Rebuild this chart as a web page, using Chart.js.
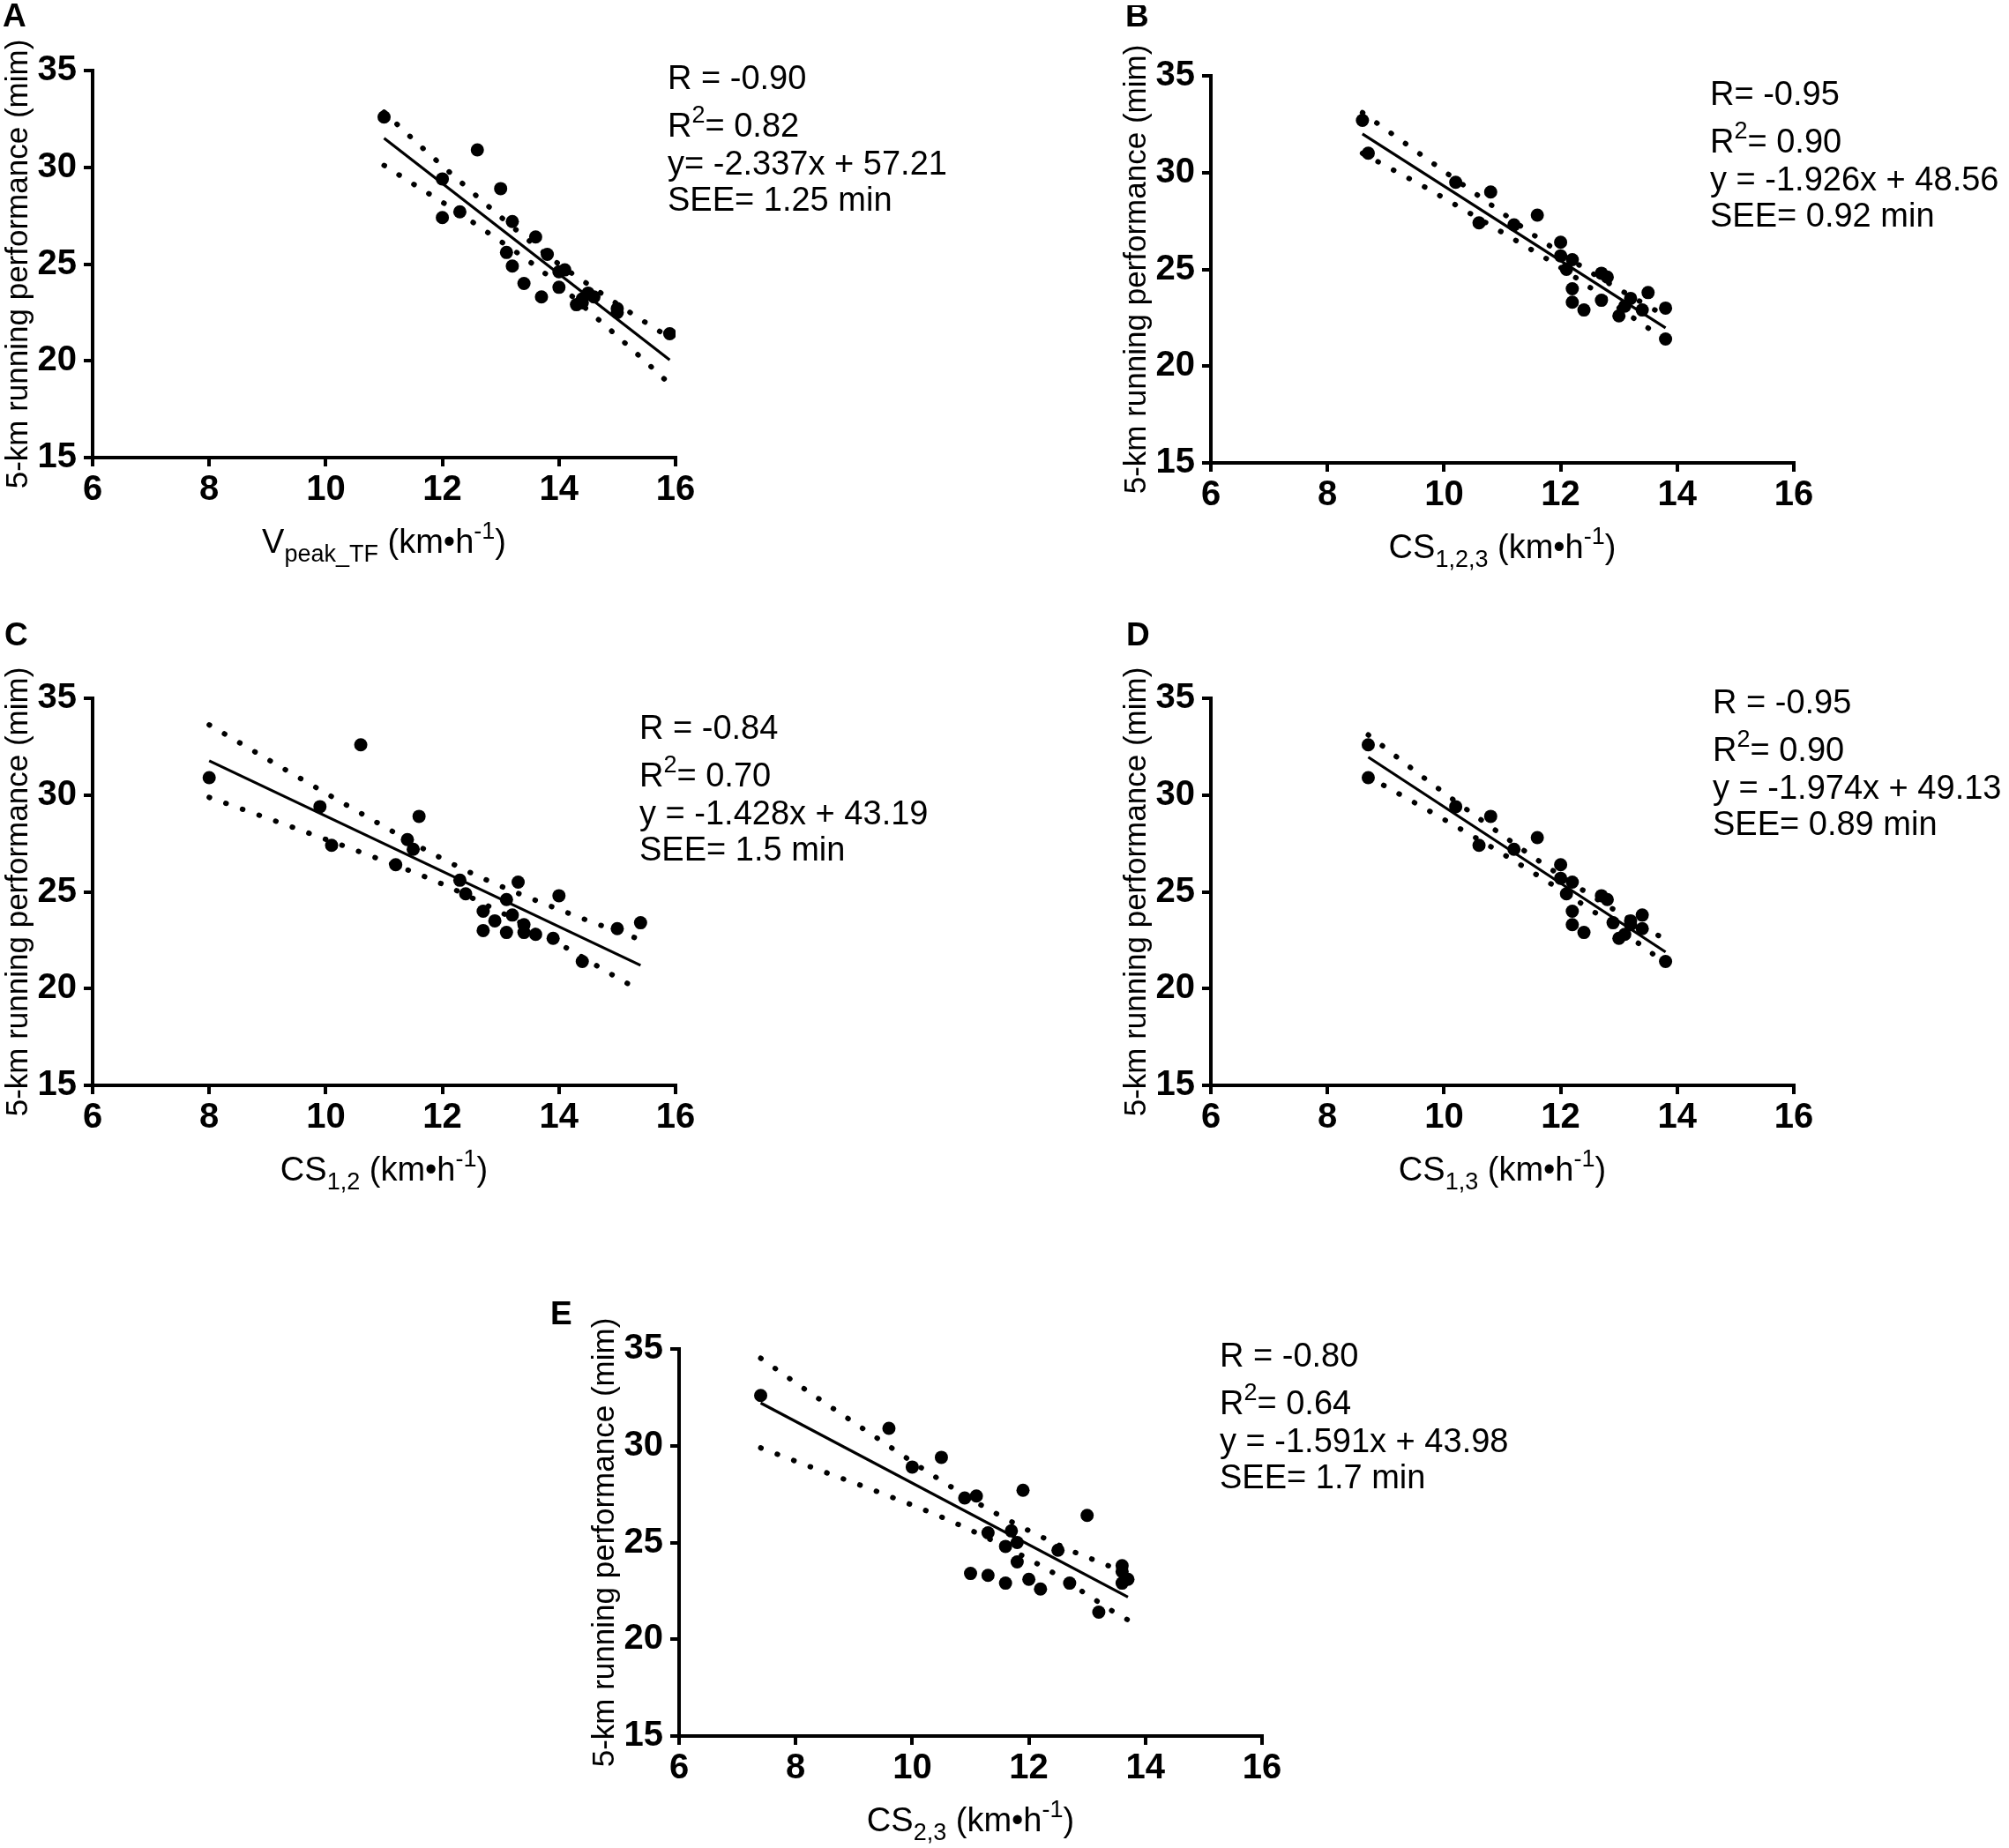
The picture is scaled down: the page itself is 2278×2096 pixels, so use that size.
<!DOCTYPE html>
<html>
<head>
<meta charset="utf-8">
<script src="https://cdn.jsdelivr.net/npm/chart.js@4.4.1/dist/chart.umd.min.js"></script>
<style>
  html, body { margin: 0; padding: 0; background: #fff; }
  body { width: 2278px; height: 2096px; position: relative; overflow: hidden; }
  canvas { position: absolute; }
</style>
</head>
<body>
<canvas id="pA"></canvas>
<canvas id="pB"></canvas>
<canvas id="pC"></canvas>
<canvas id="pD"></canvas>
<canvas id="pE"></canvas>
<script>
// axis ticks shared by all five panels
const xTicks = [6, 8, 10, 12, 14, 16];
const yTicks = [15, 20, 25, 30, 35];

// A: Vpeak_TF
const vpeakX = [11.0, 12.6, 12.0, 13.0, 12.3, 12.0, 13.2, 13.6, 13.1, 13.8, 13.2, 14.1, 14.0, 13.4, 14.0, 13.7, 14.5, 14.4, 14.3, 14.6, 14.4, 15.0, 15.0, 15.9];
const vpeakY = [32.6, 30.9, 29.4, 28.9, 27.7, 27.4, 27.2, 26.4, 25.6, 25.5, 24.9, 24.7, 24.6, 24.0, 23.8, 23.3, 23.5, 23.2, 22.9, 23.3, 23.0, 22.7, 22.5, 21.4];
const vpeakFitX = [11.0, 15.9];
const vpeakFitY = [31.50, 20.05];
const vpeakUpX = [11.0, 11.66, 12.33, 13.0, 13.94, 14.67, 15.43, 15.9];
const vpeakUpY = [32.85, 31.0, 29.2, 27.44, 25.13, 23.61, 22.09, 21.2];
const vpeakLoX = [11.0, 11.51, 12.02, 12.77, 13.74, 14.65, 15.55, 15.9];
const vpeakLoY = [30.1, 29.12, 28.16, 26.65, 24.57, 22.21, 19.78, 18.8];

// B: CS1,2,3
const cs123X = [8.6, 8.7, 10.2, 10.8, 10.6, 11.6, 11.2, 12.0, 12.0, 12.2, 12.1, 12.7, 12.8, 12.2, 12.7, 12.2, 12.4, 13.5, 13.2, 13.8, 13.4, 13.0, 13.1, 13.8];
const cs123Y = [32.7, 31.0, 29.5, 29.0, 27.4, 27.8, 27.3, 26.4, 25.7, 25.5, 25.0, 24.8, 24.6, 24.0, 23.4, 23.3, 22.9, 23.8, 23.5, 23.0, 22.9, 22.6, 23.1, 21.4];
const cs123FitX = [8.6, 13.8];
const cs123FitY = [32.00, 21.98];
const cs123UpX = [8.6, 9.57, 10.55, 11.52, 12.5, 13.56, 13.8];
const cs123UpY = [33.1, 31.0, 28.89, 26.81, 24.88, 23.0, 22.6];
const cs123LoX = [8.6, 9.12, 9.66, 10.43, 11.2, 11.97, 13.45, 13.8];
const cs123LoY = [31.0, 30.15, 29.27, 27.92, 26.55, 25.15, 22.07, 21.36];

// C: CS1,2
const cs12X = [8.0, 10.6, 9.9, 11.6, 10.1, 11.4, 11.5, 11.2, 12.3, 12.4, 13.3, 13.1, 14.0, 12.7, 13.2, 12.9, 13.4, 12.7, 13.1, 13.4, 13.6, 13.9, 14.4, 15.0, 15.4];
const cs12Y = [30.9, 32.6, 29.4, 28.9, 27.4, 27.7, 27.2, 26.4, 25.6, 24.9, 25.5, 24.6, 24.8, 24.0, 23.8, 23.5, 23.3, 23.0, 22.9, 22.9, 22.8, 22.6, 21.4, 23.1, 23.4];
const cs12FitX = [8.0, 15.4];
const cs12FitY = [31.77, 21.2];
const cs12UpX = [8.0, 9.29, 10.59, 11.89, 12.7, 13.81, 15.2, 15.4];
const cs12UpY = [33.63, 31.34, 29.08, 26.88, 25.69, 24.31, 22.74, 22.53];
const cs12LoX = [8.0, 9.41, 10.81, 11.93, 13.01, 14.06, 15.1, 15.4];
const cs12LoY = [29.88, 28.36, 26.81, 25.49, 23.93, 22.22, 20.39, 19.9];

// D: CS1,3
const cs13X = [8.7, 8.7, 10.2, 10.8, 11.6, 10.6, 11.2, 12.0, 12.0, 12.2, 12.1, 12.7, 12.8, 12.2, 12.9, 12.2, 12.4, 13.4, 13.2, 13.4, 13.0, 13.1, 13.2, 13.8];
const cs13Y = [32.6, 30.9, 29.4, 28.9, 27.8, 27.4, 27.2, 26.4, 25.7, 25.5, 24.9, 24.8, 24.6, 24.0, 23.4, 23.3, 22.9, 23.8, 23.5, 23.1, 22.6, 22.8, 23.3, 21.4];
const cs13FitX = [8.7, 13.8];
const cs13FitY = [31.96, 21.89];
const cs13UpX = [8.7, 9.67, 10.63, 11.85, 12.87, 13.65, 13.8];
const cs13UpY = [33.11, 30.86, 28.73, 26.14, 24.16, 22.79, 22.52];
const cs13LoX = [8.7, 10.0, 11.04, 12.55, 13.28, 13.8];
const cs13LoY = [30.95, 28.74, 26.9, 24.01, 22.46, 21.3];

// E: CS2,3
const cs23X = [7.4, 9.6, 10.5, 10.0, 11.9, 10.9, 11.1, 13.0, 11.3, 11.7, 11.6, 11.8, 12.5, 11.8, 13.6, 11.0, 11.3, 11.6, 12.0, 12.2, 12.7, 13.6, 13.7, 13.6, 13.2];
const cs23Y = [32.6, 30.9, 29.4, 28.9, 27.7, 27.3, 27.4, 26.4, 25.5, 25.6, 24.8, 25.0, 24.6, 24.0, 23.8, 23.4, 23.3, 22.9, 23.1, 22.6, 22.9, 23.5, 23.1, 22.9, 21.4];
const cs23FitX = [7.4, 13.7];
const cs23FitY = [32.21, 22.18];
const cs23UpX = [7.4, 8.12, 9.35, 10.34, 11.37, 12.71, 13.26, 13.7];
const cs23UpY = [34.52, 33.0, 30.49, 28.5, 26.61, 24.6, 23.93, 23.38];
const cs23LoX = [7.4, 8.22, 9.34, 10.74, 12.33, 13.08, 13.59, 13.7];
const cs23LoY = [29.89, 28.95, 27.7, 26.0, 23.59, 22.15, 21.17, 21.0];

const yTitle = '5-km running performance (mim)';

// plot area is 661 x 439 in every panel; y axis box is 105 wide
const PLOT_W = 661, PLOT_H = 439;
const LINE_GAP = [0, 54, 97, 138];
const FONT = '"Liberation Sans", Arial, sans-serif';

const panels = [
  { id: 'pA', left: 0, top: 0, w: 1130, h: 680, padL: 0, padT: 80, letter: 'A', letterAt: [-102, -60], statsAt: [652, 11],
    xs: vpeakX, ys: vpeakY, fit: [vpeakFitX, vpeakFitY], up: [vpeakUpX, vpeakUpY], lo: [vpeakLoX, vpeakLoY],
    stats: [[['R = -0.90']], [['R'], ['2', 'sup'], ['= 0.82']], [['y= -2.337x + 57.21']], [['SEE= 1.25 min']]],
    xTitle: [['V'], ['peak_TF', 'sub'], [' (km\u2022h'], ['-1', 'sup'], [')']] },
  { id: 'pB', left: 1268, top: 6, w: 1010, h: 674, padL: 0, padT: 80, letter: 'B', letterAt: [-97, -66], statsAt: [566, 23],
    xs: cs123X, ys: cs123Y, fit: [cs123FitX, cs123FitY], up: [cs123UpX, cs123UpY], lo: [cs123LoX, cs123LoY],
    stats: [[['R= -0.95']], [['R'], ['2', 'sup'], ['= 0.90']], [['y = -1.926x + 48.56']], [['SEE= 0.92 min']]],
    xTitle: [['CS'], ['1,2,3', 'sub'], [' (km\u2022h'], ['-1', 'sup'], [')']] },
  { id: 'pC', left: 0, top: 682, w: 1130, h: 700, padL: 0, padT: 110, letter: 'C', letterAt: [-100, -70], statsAt: [620, 36],
    xs: cs12X, ys: cs12Y, fit: [cs12FitX, cs12FitY], up: [cs12UpX, cs12UpY], lo: [cs12LoX, cs12LoY],
    stats: [[['R = -0.84']], [['R'], ['2', 'sup'], ['= 0.70']], [['y = -1.428x + 43.19']], [['SEE= 1.5 min']]],
    xTitle: [['CS'], ['1,2', 'sub'], [' (km\u2022h'], ['-1', 'sup'], [')']] },
  { id: 'pD', left: 1268, top: 682, w: 1010, h: 700, padL: 0, padT: 110, letter: 'D', letterAt: [-96, -70], statsAt: [569, 7],
    xs: cs13X, ys: cs13Y, fit: [cs13FitX, cs13FitY], up: [cs13UpX, cs13UpY], lo: [cs13LoX, cs13LoY],
    stats: [[['R = -0.95']], [['R'], ['2', 'sup'], ['= 0.90']], [['y = -1.974x + 49.13']], [['SEE= 0.89 min']]],
    xTitle: [['CS'], ['1,3', 'sub'], [' (km\u2022h'], ['-1', 'sup'], [')']] },
  { id: 'pE', left: 600, top: 1450, w: 1195, h: 646, padL: 65, padT: 80, letter: 'E', letterAt: [-146, -38], statsAt: [613, 10],
    xs: cs23X, ys: cs23Y, fit: [cs23FitX, cs23FitY], up: [cs23UpX, cs23UpY], lo: [cs23LoX, cs23LoY],
    stats: [[['R = -0.80']], [['R'], ['2', 'sup'], ['= 0.64']], [['y = -1.591x + 43.98']], [['SEE= 1.7 min']]],
    xTitle: [['CS'], ['2,3', 'sub'], [' (km\u2022h'], ['-1', 'sup'], [')']] }
];

function pts(xs, ys) { return xs.map((x, i) => ({ x: x, y: ys[i] })); }

// text with sub/superscripts
function rich(ctx, parts, x, y, size, align) {
  const small = Math.round(size * 0.7);
  const fontOf = k => (k ? small : size) + 'px ' + FONT;
  const shift = k => k === 'sub' ? size * 0.32 : (k === 'sup' ? -size * 0.36 : 0);
  ctx.textAlign = 'left';
  let w = 0;
  parts.forEach(p => { ctx.font = fontOf(p[1]); w += ctx.measureText(p[0]).width; });
  let cx = align === 'center' ? x - w / 2 : x;
  parts.forEach(p => {
    ctx.font = fontOf(p[1]);
    ctx.fillText(p[0], cx, y + shift(p[1]));
    cx += ctx.measureText(p[0]).width;
  });
}

const panelText = {
  id: 'panelText',
  afterDraw(chart, args, o) {
    const ctx = chart.ctx, a = chart.chartArea;
    ctx.save();
    ctx.fillStyle = '#000';
    ctx.textBaseline = 'middle';
    ctx.font = 'bold 37px ' + FONT;
    ctx.textAlign = 'left';
    ctx.fillText(o.letter, a.left + o.letterAt[0], a.top + o.letterAt[1]);
    o.stats.forEach((parts, i) => rich(ctx, parts, a.left + o.statsAt[0], a.top + o.statsAt[1] + LINE_GAP[i], 38, 'left'));
    rich(ctx, o.xTitle, (a.left + a.right) / 2, a.bottom + 98, 38, 'center');
    ctx.restore();
  }
};

const tickFont = { family: '"Liberation Sans Narrow", "Liberation Sans", Arial', weight: 'bold', size: 40 };
const axisGrid = { drawOnChartArea: false, drawTicks: true, tickLength: 10, color: '#000', lineWidth: 4 };
const axisBorder = { display: true, color: '#000', width: 4 };

panels.forEach(p => {
  const cv = document.getElementById(p.id);
  cv.width = p.w; cv.height = p.h;
  cv.style.left = p.left + 'px'; cv.style.top = p.top + 'px';
  cv.style.width = p.w + 'px'; cv.style.height = p.h + 'px';

  const band = (xy) => ({
    type: 'line', data: pts(xy[0], xy[1]), borderColor: '#000', borderWidth: 6,
    borderDash: [0.5, 19.5], borderCapStyle: 'round', pointRadius: 0,
    cubicInterpolationMode: 'monotone', fill: false
  });

  new Chart(cv, {
    type: 'scatter',
    data: {
      datasets: [
        band(p.up),
        band(p.lo),
        { type: 'line', data: pts(p.fit[0], p.fit[1]), borderColor: '#000', borderWidth: 3.2, pointRadius: 0, fill: false },
        { data: pts(p.xs, p.ys), pointRadius: 7.5, pointHoverRadius: 7.5, backgroundColor: '#000', borderWidth: 0 }
      ]
    },
    options: {
      responsive: false,
      animation: false,
      devicePixelRatio: 1,
      layout: { padding: { left: p.padL, top: p.padT, right: p.w - p.padL - 105 - PLOT_W, bottom: 0 } },
      plugins: {
        legend: { display: false },
        tooltip: { enabled: false },
        panelText: p
      },
      scales: {
        x: {
          type: 'linear', min: xTicks[0], max: xTicks[xTicks.length - 1],
          afterFit: s => { s.height = p.h - p.padT - PLOT_H; },
          grid: axisGrid, border: axisBorder,
          ticks: { stepSize: xTicks[1] - xTicks[0], color: '#000', font: tickFont, padding: 3, maxRotation: 0 }
        },
        y: {
          type: 'linear', min: yTicks[0], max: yTicks[yTicks.length - 1],
          afterFit: s => { s.width = 105; },
          grid: axisGrid, border: axisBorder,
          ticks: { stepSize: yTicks[1] - yTicks[0], color: '#000', font: tickFont, padding: 8 },
          title: { display: true, text: yTitle, color: '#000', font: { family: FONT, size: 35 }, padding: 0 }
        }
      }
    },
    plugins: [panelText]
  });
});
</script>
</body>
</html>
